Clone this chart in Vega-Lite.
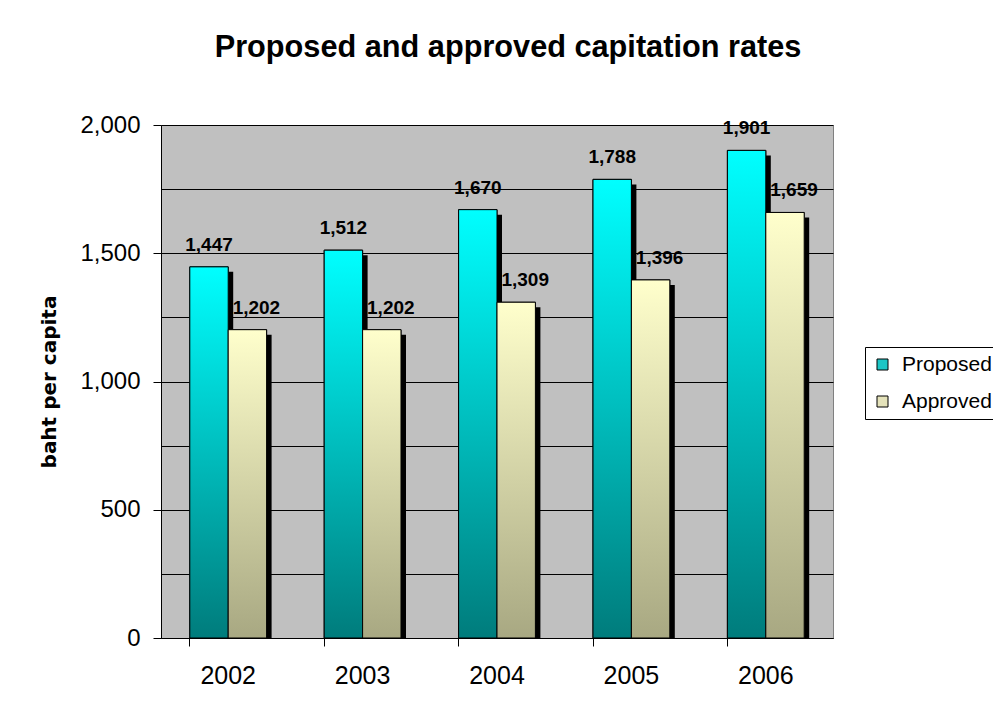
{
  "$schema": "https://vega.github.io/schema/vega-lite/v6.json",
  "width": 672,
  "height": 513,
  "autosize": {"type": "none"},
  "padding": {"left": 161, "top": 125, "right": 160, "bottom": 66},
  "background": "white",
  "title": {
    "text": "Proposed and approved capitation rates",
    "font": "Liberation Sans",
    "fontSize": 30.7,
    "fontWeight": "bold",
    "color": "black",
    "anchor": "middle",
    "baseline": "alphabetic",
    "offset": 25,
    "dx": 11
  },
  "config": {
    "view": {"fill": "#C0C0C0", "stroke": "#808080", "strokeWidth": 1}
  },
  "data": {
    "values": [
      {"year": "2002", "series": "Proposed", "value": 1447},
      {"year": "2002", "series": "Approved", "value": 1202},
      {"year": "2003", "series": "Proposed", "value": 1512},
      {"year": "2003", "series": "Approved", "value": 1202},
      {"year": "2004", "series": "Proposed", "value": 1670},
      {"year": "2004", "series": "Approved", "value": 1309},
      {"year": "2005", "series": "Proposed", "value": 1788},
      {"year": "2005", "series": "Approved", "value": 1396},
      {"year": "2006", "series": "Proposed", "value": 1901},
      {"year": "2006", "series": "Approved", "value": 1659}
    ]
  },
  "encoding": {
    "x": {
      "field": "year",
      "type": "nominal",
      "scale": {"paddingInner": 0.4286, "paddingOuter": 0.2143},
      "axis": {
        "title": null,
        "labelAngle": 0,
        "labelFont": "Liberation Sans",
        "labelFontSize": 25,
        "labelColor": "black",
        "labelPadding": 17,
        "domainColor": "black",
        "tickColor": "black",
        "tickSize": 8,
        "bandPosition": 0,
        "grid": false
      }
    },
    "xOffset": {
      "field": "series",
      "type": "nominal",
      "scale": {"type": "band", "domain": ["Proposed", "Approved"], "paddingInner": 0, "paddingOuter": 0}
    },
    "y": {
      "field": "value",
      "type": "quantitative",
      "scale": {"domain": [0, 2000], "nice": false},
      "axis": {
        "title": "baht per capita",
        "titleFont": "DejaVu Sans",
        "titleFontSize": 20,
        "titleFontWeight": "bold",
        "titleColor": "black",
        "titlePadding": 20,
        "values": [0, 250, 500, 750, 1000, 1250, 1500, 1750, 2000],
        "labelExpr": "datum.value % 500 === 0 ? format(datum.value, ',') : ''",
        "labelFont": "Liberation Sans",
        "labelFontSize": 24,
        "labelColor": "black",
        "labelPadding": 13,
        "domainColor": "black",
        "tickColor": "black",
        "tickSize": 8,
        "tickOpacity": {"condition": {"test": "datum.value % 500 === 0", "value": 1}, "value": 0},
        "grid": true,
        "gridColor": "black",
        "gridWidth": 1,
        "gridOpacity": 1
      }
    }
  },
  "resolve": {"scale": {"xOffset": "independent"}},
  "layer": [
    {
      "mark": {"type": "bar", "color": "black", "yOffset": 5, "clip": true},
      "encoding": {
        "xOffset": {
          "field": "series",
          "type": "nominal",
          "scale": {"type": "band", "domain": ["Proposed", "Approved"], "range": [5, 81.8], "paddingInner": 0, "paddingOuter": 0}
        }
      }
    },
    {
      "mark": {"type": "bar", "stroke": "black", "strokeWidth": 1},
      "encoding": {
        "fill": {
          "field": "series",
          "type": "nominal",
          "scale": {"domain": ["Proposed", "Approved"], "range": ["#1CC6C6", "#E4E2BA"]},
          "legend": {
            "title": null,
            "orient": "none",
            "legendX": 704,
            "legendY": 222,
            "strokeColor": "black",
            "fillColor": "white",
            "padding": 7,
            "symbolType": "square",
            "symbolSize": 121,
            "symbolStrokeColor": "black",
            "symbolStrokeWidth": 1,
            "symbolOpacity": 1,
            "labelFont": "Liberation Sans",
            "labelFontSize": 21,
            "labelColor": "black",
            "labelOffset": 9,
            "rowPadding": 15
          }
        }
      }
    },
    {
      "transform": [{"filter": "datum.series === 'Proposed'"}],
      "mark": {
        "type": "bar",
        "stroke": "black",
        "strokeWidth": 1,
        "fill": {
          "gradient": "linear",
          "x1": 0, "y1": 0, "x2": 0, "y2": 1,
          "stops": [
            {"offset": 0, "color": "#00FFFF"},
            {"offset": 1, "color": "#007C7C"}
          ]
        }
      }
    },
    {
      "transform": [{"filter": "datum.series === 'Approved'"}],
      "mark": {
        "type": "bar",
        "stroke": "black",
        "strokeWidth": 1,
        "fill": {
          "gradient": "linear",
          "x1": 0, "y1": 0, "x2": 0, "y2": 1,
          "stops": [
            {"offset": 0, "color": "#FFFFCC"},
            {"offset": 1, "color": "#A8A882"}
          ]
        }
      }
    },
    {
      "transform": [{"filter": "datum.series === 'Proposed'"}],
      "mark": {"type": "text", "font": "Liberation Sans", "fontSize": 19, "fontWeight": "bold", "color": "black", "baseline": "alphabetic", "dy": -16},
      "encoding": {"text": {"field": "value", "type": "quantitative", "format": ","}}
    },
    {
      "transform": [{"filter": "datum.series === 'Approved'"}],
      "mark": {"type": "text", "font": "Liberation Sans", "fontSize": 19, "fontWeight": "bold", "color": "black", "baseline": "alphabetic", "dy": -16, "dx": 9},
      "encoding": {"text": {"field": "value", "type": "quantitative", "format": ","}}
    }
  ]
}
